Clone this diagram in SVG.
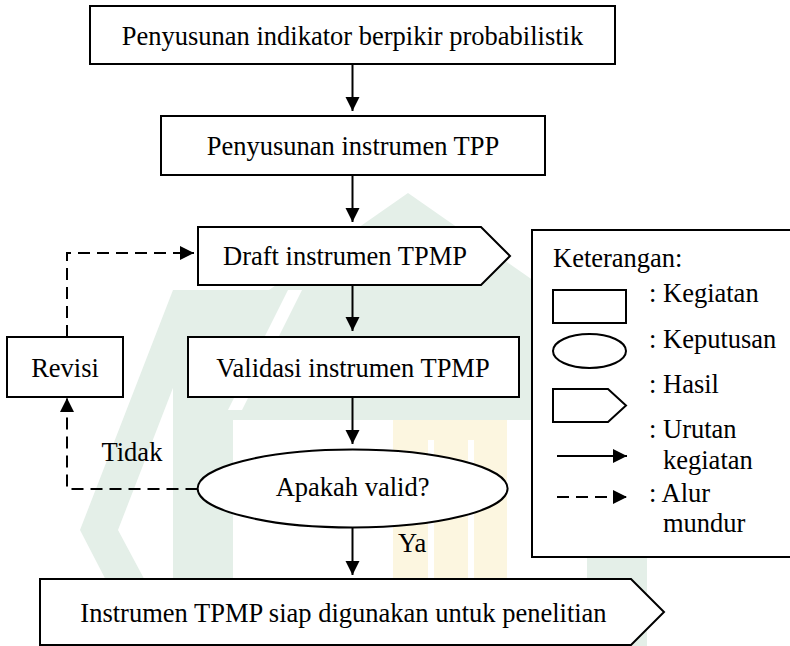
<svg xmlns="http://www.w3.org/2000/svg" width="790" height="646" viewBox="0 0 790 646">
  <style>
    .shape { fill: #ffffff; stroke: #000000; stroke-width: 2; }
    .line { fill: none; stroke: #000000; stroke-width: 2; }
    .dash { fill: none; stroke: #000000; stroke-width: 2; stroke-dasharray: 12 7; }
    .t { font-family: "Liberation Serif", "Times New Roman", serif; font-size: 26.5px; fill: #000000; }
    .c { text-anchor: middle; }
    .wm-g { fill: #e4efe8; }
    .wm-y { fill: #fcf6e0; }
    .wm-w { fill: #ffffff; }
  </style>
  <defs>
    <marker id="arr" markerUnits="userSpaceOnUse" markerWidth="15" markerHeight="15" refX="14" refY="7" orient="auto">
      <path d="M0,0 L14,7 L0,14 Z" fill="#000000"/>
    </marker>
  </defs>
  <rect x="0" y="0" width="790" height="646" fill="#ffffff"/>

  <g id="watermark">
    <polygon class="wm-g" points="408,193 547,290 269,290"/>
    <rect class="wm-g" x="173" y="290" width="467" height="130"/>
    <polygon class="wm-w" points="288,290 302,290 242,410 228,410"/>
    <rect class="wm-g" x="173" y="420" width="60" height="160"/>
    <polygon class="wm-g" points="173,290 200,318 118,530 180,646 140,646 80,530"/>
    <rect class="wm-g" x="587" y="420" width="60" height="226"/>
    <rect class="wm-y" x="393" y="420" width="114" height="226"/>
    <rect class="wm-w" x="428" y="440" width="6" height="206"/>
    <rect class="wm-w" x="468" y="440" width="6" height="206"/>
  </g>

  <g id="connectors">
    <line class="line" x1="352.5" y1="64" x2="352.5" y2="111" marker-end="url(#arr)"/>
    <line class="line" x1="352.5" y1="175" x2="352.5" y2="222" marker-end="url(#arr)"/>
    <line class="line" x1="352.5" y1="285" x2="352.5" y2="331" marker-end="url(#arr)"/>
    <line class="line" x1="352.5" y1="397" x2="352.5" y2="444" marker-end="url(#arr)"/>
    <line class="line" x1="352.5" y1="527.5" x2="352.5" y2="575" marker-end="url(#arr)"/>
    <polyline class="dash" points="197.5,489 67,489 67,398" marker-end="url(#arr)"/>
    <polyline class="dash" points="67,337 67,253 194,253" marker-end="url(#arr)"/>
    <text class="t" x="101.5" y="460.5">Tidak</text>
    <text class="t" x="398" y="551.5">Ya</text>
  </g>

  <g id="n1">
    <rect class="shape" x="90" y="6" width="525" height="58"/>
    <text class="t c" x="352.5" y="45">Penyusunan indikator berpikir probabilistik</text>
  </g>
  <g id="n2">
    <rect class="shape" x="161" y="116" width="384" height="59"/>
    <text class="t c" x="353" y="155">Penyusunan instrumen TPP</text>
  </g>
  <g id="n3">
    <polygon class="shape" points="198,227 481,227 510,256 481,285 198,285"/>
    <text class="t c" x="345" y="265">Draft instrumen TPMP</text>
  </g>
  <g id="n4">
    <rect class="shape" x="7" y="337" width="116" height="60"/>
    <text class="t c" x="65" y="377">Revisi</text>
  </g>
  <g id="n5">
    <rect class="shape" x="188" y="337" width="331" height="60"/>
    <text class="t c" x="353" y="377">Validasi instrumen TPMP</text>
  </g>
  <g id="n6">
    <ellipse class="shape" cx="352.6" cy="488.5" rx="155" ry="39"/>
    <text class="t c" x="352.6" y="496">Apakah valid?</text>
  </g>
  <g id="n7">
    <polygon class="shape" points="40,579 631,579 664,612 631,645 40,645"/>
    <text class="t c" x="343.5" y="621.5">Instrumen TPMP siap digunakan untuk penelitian</text>
  </g>

  <g id="legend">
    <rect class="shape" x="532" y="230" width="270" height="327"/>
    <text class="t" x="553" y="266.5">Keterangan:</text>
    <rect class="shape" x="553" y="290" width="73" height="33"/>
    <text class="t" x="649" y="301.5">: Kegiatan</text>
    <ellipse class="shape" cx="589.5" cy="351" rx="36.5" ry="17"/>
    <text class="t" x="649" y="348">: Keputusan</text>
    <polygon class="shape" points="553,389 608,389 626,405.5 608,422 553,422"/>
    <text class="t" x="649" y="393">: Hasil</text>
    <line class="line" x1="557" y1="456" x2="627" y2="456" marker-end="url(#arr)"/>
    <text class="t" x="649" y="438">: Urutan</text>
    <text class="t" x="663" y="469">kegiatan</text>
    <line class="dash" x1="557" y1="497" x2="627" y2="497" marker-end="url(#arr)"/>
    <text class="t" x="649" y="501.5">: Alur</text>
    <text class="t" x="663" y="531.5">mundur</text>
  </g>
</svg>
